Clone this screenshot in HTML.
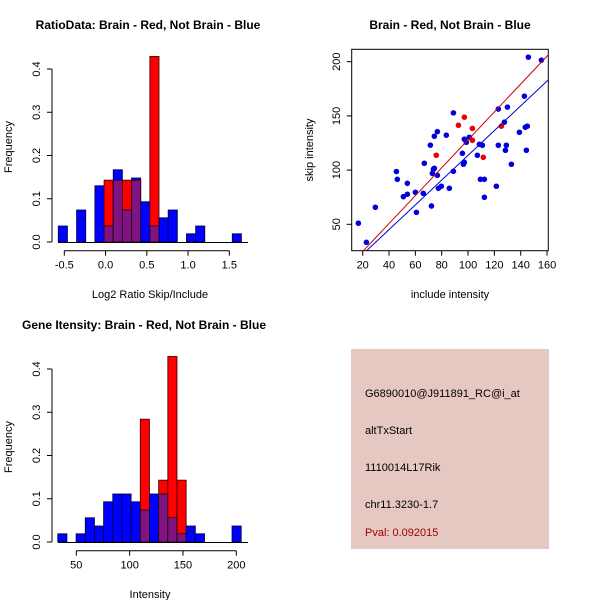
<!DOCTYPE html>
<html><head><meta charset="utf-8">
<style>
html,body{margin:0;padding:0;background:#fff;}
svg{display:block;font-family:"Liberation Sans",sans-serif;}
</style></head>
<body>
<svg id="chart" width="600" height="600" viewBox="0 0 600 600" xmlns="http://www.w3.org/2000/svg">
<text x="148" y="29" text-anchor="middle" font-size="12" font-weight="bold">RatioData: Brain - Red, Not Brain - Blue</text>
<text x="450" y="29" text-anchor="middle" font-size="12" font-weight="bold">Brain - Red, Not Brain - Blue</text>
<text x="144" y="329" text-anchor="middle" font-size="12" font-weight="bold">Gene Itensity: Brain - Red, Not Brain - Blue</text>
<text x="150" y="298" text-anchor="middle" font-size="11">Log2 Ratio Skip/Include</text>
<text x="450" y="298" text-anchor="middle" font-size="11">include intensity</text>
<text x="150" y="598" text-anchor="middle" font-size="11">Intensity</text>
<text transform="translate(12,147) rotate(-90)" text-anchor="middle" font-size="11">Frequency</text>
<text transform="translate(12,447) rotate(-90)" text-anchor="middle" font-size="11">Frequency</text>
<text transform="translate(313,150) rotate(-90)" text-anchor="middle" font-size="11">skip intensity</text>
<g id="g1"></g>
<g id="g2"></g>
<g id="g3"></g>
<g>
<rect x="351" y="349" width="198" height="200" fill="#e6c8c2"/>
<text x="365" y="397" font-size="11">G6890010@J911891_RC@i_at</text>
<text x="365" y="434" font-size="11">altTxStart</text>
<text x="365" y="471" font-size="11">1110014L17Rik</text>
<text x="365" y="508" font-size="11">chr11.3230-1.7</text>
<text x="365" y="536" font-size="11" fill="#a00000">Pval: 0.092015</text>
</g>
</svg>
<script>
// ---- ratio histogram data ----
const ratioBinStart = -0.573;
const ratioBinWidth = 0.111;
const ratioBlueBins = [0,2,4,5,6,7,8,9,10,11,12,14,15,19];
const ratioBlueFreq = [0.037,0.074,0.13,0.037,0.167,0.074,0.148,0.093,0.037,0.056,0.074,0.019,0.037,0.019];
const ratioRedBins = [5,6,7,8,10];
const ratioRedFreq = [0.143,0.143,0.143,0.143,0.429];
const ratioXTicks = [-0.5,0.0,0.5,1.0,1.5];
const ratioXTickLabels = ["-0.5","0.0","0.5","1.0","1.5"];
const freqTicks = [0.0,0.1,0.2,0.3,0.4];
const freqTickLabels = ["0.0","0.1","0.2","0.3","0.4"];
// ---- intensity histogram data ----
const intBinStart = 32.6;
const intBinWidth = 8.6;
const intBlueBins = [0,2,3,4,5,6,7,8,9,10,11,12,13,14,15,19];
const intBlueFreq = [0.019,0.019,0.056,0.037,0.093,0.111,0.111,0.093,0.074,0.111,0.111,0.056,0.019,0.037,0.019,0.037];
const intRedBins = [9,11,12,13];
const intRedFreq = [0.284,0.143,0.429,0.143];
const intXTicks = [50,100,150,200];
const intXTickLabels = ["50","100","150","200"];
// ---- scatter data ----
const blueX = [16.7,22.8,29.6,45.6,46.3,50.9,53.9,53.9,60,60.8,66,66.8,71.4,72.2,72.9,73.7,74.4,74.4,76.7,76.7,77.5,79.7,83.5,85.8,88.9,88.9,95.7,96.5,97.2,97.2,98.7,101,107.1,108.6,109.4,110.9,112.4,112.4,121.5,123,123,127.6,128.4,129.1,129.9,132.9,139,142.8,143.5,144.3,145,145.8,155.7];
const blueY = [51,33.4,65.7,98.7,91.5,75.5,87.8,77.7,79.5,61,78.6,106.3,123,66.9,97,100.8,131.2,101.7,135.5,95.2,83.2,85.1,132.2,83.2,152.8,98.9,115.5,105.4,107.2,128.5,125.7,130.3,113.7,123.8,91.5,122.9,91.5,74.9,85.1,156.3,122.9,144.2,118.3,122.9,158.1,105.4,134.9,168.2,139.5,118.3,140.5,204.2,201.4];
const redX = [75.9,92.7,97.2,103.3,103.3,111.6,125.3];
const redY = [113.7,141.4,148.8,138.5,127.5,111.8,140.5];
const redFit = [-0.8,1.287];   // intercept, slope
const blueFit = [-0.6,1.142];
const scXTicks = [20,40,60,80,100,120,140,160];
const scYTicks = [50,100,150,200];

const NS="http://www.w3.org/2000/svg";
function mk(parent,tag,attrs){const e=document.createElementNS(NS,tag);for(const k in attrs)e.setAttribute(k,attrs[k]);parent.appendChild(e);return e;}

function drawHist(g, oy, xs, bStart, bW, blueBins, blueFreq, redBins, redFreq, xt, xtl, prefix){
  const yv = v => oy+242 - v*432.5;
  const bx = k => xs(bStart + k*bW);
  const bw = xs(bW) - xs(0);
  const blue={}, red={};
  blueBins.forEach((k,i)=>blue[k]=blueFreq[i]);
  redBins.forEach((k,i)=>red[k]=redFreq[i]);
  const all=[...new Set([...blueBins,...redBins])].sort((a,b)=>a-b);
  all.forEach(k=>{
    const b=blue[k]||0, r=red[k]||0;
    if(b>0){const e=mk(g,'rect',{x:bx(k),y:yv(b),width:bw,height:yv(0)-yv(b),fill:'#0000ff',stroke:'#000033','stroke-width':0.8});
      
      }
    if(r>0){const e=mk(g,'rect',{x:bx(k),y:yv(r),width:bw,height:yv(0)-yv(r),fill:'#ff0000',stroke:'#330000','stroke-width':0.8});
      
      }
    if(b>0&&r>0){const m=Math.min(b,r);const e=mk(g,'rect',{x:bx(k),y:yv(m),width:bw,height:yv(0)-yv(m),fill:'#7f137f',stroke:'#220022','stroke-width':0.8});
      
      }
  });
  const base=mk(g,'line',{x1:58,y1:yv(0)+0.5,x2:248,y2:yv(0)+0.5,stroke:'#000','stroke-width':1});
  
  
  // y axis
  const ya=mk(g,'line',{x1:52,y1:yv(0),x2:52,y2:yv(0.4),stroke:'#000'});
  
  
  freqTicks.forEach((t,i)=>{
    mk(g,'line',{x1:47,y1:yv(t),x2:52,y2:yv(t),stroke:'#000'});
    const tx=mk(g,'text',{transform:`translate(40,${yv(t)}) rotate(-90)`,'text-anchor':'middle','font-size':11});
    tx.textContent=freqTickLabels[i];
    
    
  });
  // x axis
  const ay=oy+250.7;
  const xa=mk(g,'line',{x1:xs(xt[0]),y1:ay,x2:xs(xt[xt.length-1]),y2:ay,stroke:'#000'});
  
  
  xt.forEach((t,i)=>{
    mk(g,'line',{x1:xs(t),y1:ay,x2:xs(t),y2:ay+5,stroke:'#000'});
    const tx=mk(g,'text',{x:xs(t),y:ay+18,'text-anchor':'middle','font-size':11});
    tx.textContent=xtl[i];
    
    
  });
}
const xsRatio = v => 64.3 + (v+0.5)*82.5;
drawHist(document.getElementById('g1'),0,xsRatio,ratioBinStart,ratioBinWidth,ratioBlueBins,ratioBlueFreq,ratioRedBins,ratioRedFreq,ratioXTicks,ratioXTickLabels,'ratio');
const xsInt = v => 76.3 + (v-50)*1.0667;
drawHist(document.getElementById('g3'),300,xsInt,intBinStart,intBinWidth,intBlueBins,intBlueFreq,intRedBins,intRedFreq,intXTicks,intXTickLabels,'intensity');

// scatter
(function(){
  const g=document.getElementById('g2');
  const sx=v=>362.7+(v-20)*1.3167;
  const sy=v=>224.3-(v-50)*1.084;
  const L=351.7,R=548.3,T=49.3,B=250.7;
  const box=mk(g,'rect',{x:L,y:T,width:R-L,height:B-T,fill:'none',stroke:'#000'});
  
  
  const cp=mk(g,'clipPath',{id:'scclip'});mk(cp,'rect',{x:L,y:T,width:R-L,height:B-T});
  blueX.forEach((x,i)=>{const c=mk(g,'circle',{cx:sx(x),cy:sy(blueY[i]),r:2.8,fill:'#0000dd'});
    
    });
  redX.forEach((x,i)=>{const c=mk(g,'circle',{cx:sx(x),cy:sy(redY[i]),r:2.8,fill:'#ee0000'});
    
    });
  [[redFit,'#cc0000','red-fit-line'],[blueFit,'#0000cc','blue-fit-line']].forEach(([f,col,nm])=>{
    const x0=0,x1=200;
    const l=mk(g,'line',{x1:sx(x0),y1:sy(f[0]+f[1]*x0),x2:sx(x1),y2:sy(f[0]+f[1]*x1),stroke:col,'stroke-width':1,'clip-path':'url(#scclip)'});
    
    
  });
  scXTicks.forEach(t=>{
    mk(g,'line',{x1:sx(t),y1:B,x2:sx(t),y2:B+5,stroke:'#000'});
    const tx=mk(g,'text',{x:sx(t),y:B+18,'text-anchor':'middle','font-size':11});
    tx.textContent=String(t);
    
    
  });
  scYTicks.forEach(t=>{
    mk(g,'line',{x1:L-5,y1:sy(t),x2:L,y2:sy(t),stroke:'#000'});
    const tx=mk(g,'text',{transform:`translate(340,${sy(t)}) rotate(-90)`,'text-anchor':'middle','font-size':11});
    tx.textContent=String(t);
    
    
  });
})();
</script>
</body></html>
